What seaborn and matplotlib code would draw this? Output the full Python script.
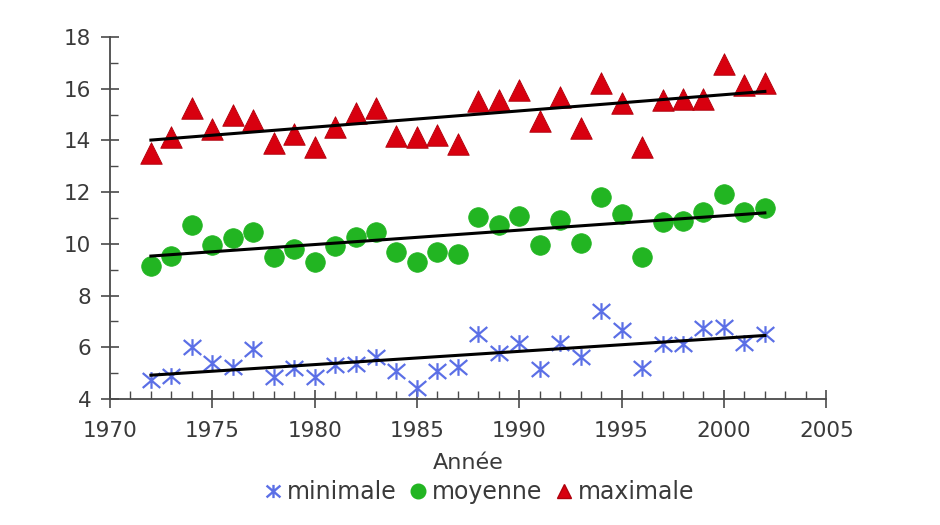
import numpy as np
import pandas as pd
import matplotlib
matplotlib.use("Agg")
import matplotlib.pyplot as plt
from matplotlib.path import Path
from matplotlib.lines import Line2D
from matplotlib.ticker import MultipleLocator
import seaborn as sns

years = list(range(1972, 2003))

minimale = [4.73, 4.89, 6.01, 5.39, 5.24, 5.93, 4.85, 5.20, 4.85, 5.31,
            5.35, 5.62, 5.08, 4.43, 5.08, 5.24, 6.51, 5.78, 6.17, 5.16,
            6.17, 5.62, 7.40, 6.67, 5.20, 6.13, 6.13, 6.75, 6.78, 6.17, 6.51]

moyenne = [9.14, 9.53, 10.73, 9.96, 10.23, 10.46, 9.49, 9.80, 9.30, 9.92,
           10.26, 10.46, 9.68, 9.30, 9.68, 9.61, 11.04, 10.73, 11.08, 9.96,
           10.92, 10.03, 11.81, 11.15, 9.49, 10.84, 10.88, 11.23, 11.93, 11.23, 11.39]

maximale = [13.51, 14.13, 15.25, 14.44, 14.97, 14.78, 13.89, 14.25, 13.74, 14.52,
            15.06, 15.25, 14.17, 14.13, 14.21, 13.86, 15.52, 15.56, 15.95, 14.75,
            15.68, 14.48, 16.22, 15.45, 13.74, 15.56, 15.60, 15.60, 16.95, 16.14, 16.22]

series_names = ["minimale", "moyenne", "maximale"]

df = pd.DataFrame({
    "annee": years * 3,
    "temp": minimale + moyenne + maximale,
    "serie": np.repeat(series_names, len(years)),
})

# asterisk marker: an X crossed by a vertical stroke
star = Path(
    [(-1, -0.85), (1, 0.85), (-1, 0.85), (1, -0.85), (0, -0.95), (0, 0.95)],
    [Path.MOVETO, Path.LINETO, Path.MOVETO, Path.LINETO, Path.MOVETO, Path.LINETO],
)

styles = {
    "minimale": dict(marker=star, color="#5b6fe6", edge="#5b6fe6", s=160, lw=1.6),
    "moyenne": dict(marker="o", color="#22b522", edge="#22b522", s=200, lw=0.5),
    "maximale": dict(marker="^", color="#d8000f", edge="#b0000c", s=240, lw=0.6),
}

text_color = "#3a3a3a"
font_size = 15.5

fig = plt.figure(figsize=(9.4, 5.25), dpi=100)
ax = fig.add_axes([0.117, 0.24, 0.762, 0.6895])

for name in series_names:
    st = styles[name]
    sub = df[df["serie"] == name]
    sns.scatterplot(data=sub, x="annee", y="temp", ax=ax, marker=st["marker"],
                    color=st["color"], edgecolor=st["edge"], linewidth=st["lw"],
                    s=st["s"], legend=False, zorder=3)
    sns.regplot(data=sub, x="annee", y="temp", ax=ax, scatter=False, ci=None,
                color="black", line_kws=dict(linewidth=2.2, zorder=4))

ax.set_xlim(1970, 2005)
ax.set_ylim(4, 18)
ax.xaxis.set_major_locator(MultipleLocator(5))
ax.xaxis.set_minor_locator(MultipleLocator(1))
ax.yaxis.set_major_locator(MultipleLocator(2))
ax.yaxis.set_minor_locator(MultipleLocator(1))

for side in ["top", "right"]:
    ax.spines[side].set_visible(False)
for side in ["left", "bottom"]:
    ax.spines[side].set_color("#4a4a4a")
    ax.spines[side].set_linewidth(1.3)

ax.tick_params(which="major", direction="inout", length=13, width=1.2,
               colors="#4a4a4a", labelcolor=text_color, labelsize=font_size)
ax.tick_params(axis="x", which="major", pad=9)
ax.tick_params(axis="y", which="major", pad=7)
ax.tick_params(which="minor", direction="in", length=6, width=1.0, colors="#4a4a4a")

ax.set_xlabel("Année", fontsize=16, color=text_color, labelpad=9)
ax.set_ylabel("")

handles = [
    Line2D([], [], linestyle="none", marker=star, markersize=10,
           markeredgecolor="#5b6fe6", markeredgewidth=1.7, color="#5b6fe6"),
    Line2D([], [], linestyle="none", marker="o", markersize=10.5,
           markerfacecolor="#22b522", markeredgecolor="#22b522"),
    Line2D([], [], linestyle="none", marker="^", markersize=10.5,
           markerfacecolor="#d8000f", markeredgecolor="#b0000c"),
]
fig.legend(handles, series_names, loc="center", bbox_to_anchor=(0.509, 0.062),
           ncol=3, frameon=False, fontsize=17, handletextpad=0.15,
           columnspacing=0.45, handlelength=0.9, labelcolor=text_color)

fig.savefig("out.png", dpi=100, facecolor="white")
